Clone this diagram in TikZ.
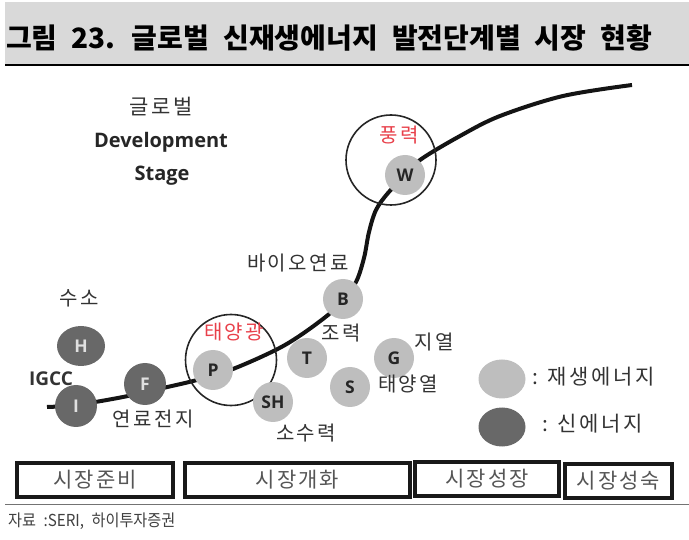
\documentclass[tikz,border=0pt]{standalone}
\usepackage{fontspec}
\usetikzlibrary{shapes.geometric}
\setmainfont{Noto Sans CJK KR}
\newfontfamily\krl[LetterSpace=12]{Noto Sans CJK KR}
\newfontfamily\krs[LetterSpace=10]{Noto Sans CJK KR}
\newfontfamily\krt[WordSpace=2.1]{Noto Sans CJK KR}
\newfontfamily\krsrc[WordSpace=2.2]{Noto Sans CJK KR}
\newfontfamily\osf{Open Sans}
\definecolor{bandgray}{HTML}{D9D9D9}
\definecolor{lightg}{HTML}{BEBEBE}
\definecolor{darkg}{HTML}{686868}
\definecolor{redtxt}{HTML}{E8404A}
\definecolor{txt}{HTML}{333333}
\definecolor{boxtxt}{HTML}{555555}
\begin{document}
\begin{tikzpicture}[x=1pt,y=-1pt,
  renew/.style={circle,fill=lightg,minimum size=40pt,inner sep=0pt,font=\osf\bfseries\fontsize{17.5}{17.5}\selectfont,text=black!85},
  newe/.style={circle,fill=darkg,minimum size=42pt,inner sep=0pt,font=\osf\bfseries\fontsize{17.5}{17.5}\selectfont,text=white!88!black},
  lbl/.style={inner sep=0pt,font=\krl\fontsize{20}{20}\selectfont,text=txt},
  redlbl/.style={lbl,text=redtxt},
  ring/.style={circle,draw=black!85,line width=1.6pt,inner sep=0pt},
  stagebox/.style={draw=black!90,line width=3.5pt,inner sep=0pt,minimum height=34pt,font=\krs\fontsize{21}{21}\selectfont,text=boxtxt},
  sline/.style={line width=4pt,black!92}
]
\useasboundingbox (0,0) rectangle (689,540);
% title band
\fill[bandgray] (5,2) rectangle (689,64);
\draw[line width=1.6pt] (5,65) -- (689,65);
\node[anchor=west,inner sep=0pt,font=\krt\bfseries\fontsize{28}{28}\selectfont,text=black] (title) at (6,38) {그림 23. 글로벌 신재생에너지 발전단계별 시장 현황};

% heading
\node[lbl,font=\krl\fontsize{21}{21}\selectfont] (glob) at (161,107) {글로벌};
\node[inner sep=0pt,font=\osf\bfseries\fontsize{20}{20}\selectfont,text=black!85] (dev) at (161,142) {Development};
\node[inner sep=0pt,font=\osf\bfseries\fontsize{20}{20}\selectfont,text=black!85] (stg) at (162,176) {Stage};

% S-curve
\draw[sline] plot[smooth,tension=0.55] coordinates {(47,407) (76,405) (123,397) (163,388) (197,380) (233,369) (285,345) (328,315) (343,298) (356,282) (364,258) (369,232) (376,210) (388,193) (405,176) (420,160) (460,136) (500,116) (563,96) (632,85)};

% rings
\node[ring,minimum size=91pt] (ringP) at (231,360) {};
\node[ring,minimum size=90pt] (ringW) at (391,160) {};

% circles
\node[newe,ellipse,minimum width=48pt,minimum height=40pt] (H) at (81,346) {\raisebox{-3pt}{H}};
\node[newe] (I) at (76,406) {\raisebox{-3pt}{I}};
\node[newe] (F) at (145,384) {\raisebox{-3pt}{F}};
\node[renew] (P) at (213,370) {\raisebox{-3pt}{P}};
\node[renew] (T) at (307,358) {\raisebox{-3pt}{T}};
\node[renew] (SH) at (273,402) {\raisebox{-3pt}{SH}};
\node[renew] (B) at (343,299) {\raisebox{-4pt}{B}};
\node[renew] (S) at (350,387) {\raisebox{-3pt}{S}};
\node[renew] (G) at (394,358) {\raisebox{-5pt}{G}};
\node[renew] (W) at (405,175) {\raisebox{-3pt}{W}};

% labels
\node[lbl] (lH) at (79,298) {수소};
\node[inner sep=0pt,font=\osf\bfseries\fontsize{19}{19}\selectfont,text=txt] (lI) at (51,379) {IGCC};
\node[lbl] (lF) at (153,419) {연료전지};
\node[redlbl] (lP) at (234,332) {태양광};
\node[lbl] (lSH) at (306,433) {소수력};
\node[lbl] (lT) at (341,333) {조력};
\node[lbl] (lB) at (298,263) {바이오연료};
\node[redlbl] (lW) at (399,135) {풍력};
\node[lbl] (lG) at (434,342) {지열};
\node[lbl] (lS) at (408,384) {태양열};

% legend
\node[ellipse,fill=lightg,minimum width=47pt,minimum height=39pt,inner sep=0pt] (legR) at (502,379) {};
\node[ellipse,fill=darkg,minimum width=47pt,minimum height=39pt,inner sep=0pt] (legN) at (502,427) {};
\node[lbl,anchor=west,font=\krl\fontsize{21}{21}\selectfont] (legRt) at (532,377) {: 재생에너지};
\node[lbl,anchor=west,font=\krl\fontsize{21}{21}\selectfont] (legNt) at (542,424) {: 신에너지};

% stage boxes
\node[stagebox,minimum width=156pt] (s1) at (95,480) {시장준비};
\node[stagebox,minimum width=225pt] (s2) at (297.5,480) {시장개화};
\node[stagebox,minimum width=144pt] (s3) at (487,479) {시장성장};
\node[stagebox,minimum width=107pt] (s4) at (618.5,481) {시장성숙};

% source line
\draw[black!55,line width=1pt] (5,504) -- (689,504);
\node[anchor=west,inner sep=0pt,text=black!75] (src) at (8,521) {\scalebox{0.92}[1]{\krsrc\fontsize{16.5}{16.5}\selectfont 자료 :SERI, 하이투자증권}};
\end{tikzpicture}
\end{document}
